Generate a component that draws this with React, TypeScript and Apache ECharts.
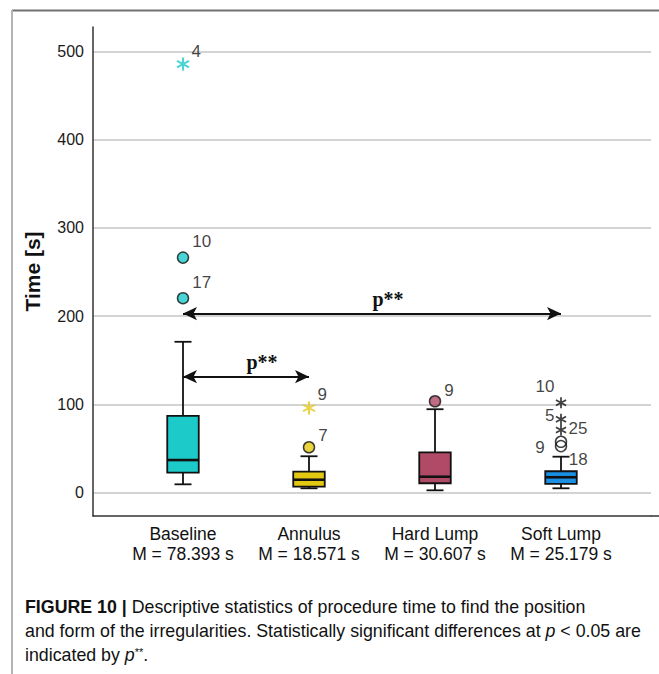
import React, { useEffect, useRef } from 'react';
import * as echarts from 'echarts';

// ---------- data ----------
const categories = ['Baseline', 'Annulus', 'Hard Lump', 'Soft Lump'];
const means = [78.393, 18.571, 30.607, 25.179];
const whiskerLow = [9.5, 5, 2.7, 5];
const q1 = [22.7, 6.8, 10.7, 9.9];
const median = [37, 14.7, 18.1, 17.5];
const q3 = [87, 23.8, 45.8, 24.3];
const whiskerHigh = [171, 41.3, 94.6, 40.8];

const outlierGroup = ['Baseline', 'Baseline', 'Baseline', 'Annulus', 'Annulus', 'Hard Lump', 'Soft Lump', 'Soft Lump', 'Soft Lump', 'Soft Lump', 'Soft Lump'];
const outlierValue = [485.7, 266.4, 220.4, 96, 51.5, 103.6, 102, 83.2, 71.1, 57.7, 52.8];
const outlierCase = ['4', '10', '17', '9', '7', '9', '10', '5', '25', '9', '18'];
const outlierKind = ['extreme', 'outlier', 'outlier', 'extreme', 'outlier', 'outlier', 'extreme', 'extreme', 'extreme', 'outlier', 'outlier'];

const sigFrom = ['Baseline', 'Baseline'];
const sigTo = ['Soft Lump', 'Annulus'];
const sigLevel = [203, 131.5];
const sigText = ['p**', 'p**'];

const yTicks = [0, 100, 200, 300, 400, 500];
const yMin = -26.4;
const yMax = 527.7;

// ---------- styles ----------
const FONT = 'Liberation Sans';
const boxColors = ['#1ccaca', '#e3c812', '#b04a66', '#1b8fe3'];
const INK = '#111111';
const STAR =
  'path://M-0.15 -1L0.15 -1L0.15 1L-0.15 1Z' +
  'M0.791 0.630L-0.941 -0.370L-0.791 -0.630L0.941 0.370Z' +
  'M0.941 -0.370L-0.791 0.630L-0.941 0.370L0.791 -0.630Z';
// [position, distance, dy] for each outlier label
const labelPlacement: [string, number, number][] = [
  ['right', 2, -13], ['right', 3, -16], ['right', 3, -16], ['right', 2, -13], ['right', 3, -12], ['right', 3, -11],
  ['left', 1, -16], ['left', 1, -4], ['right', 2, -1], ['left', 10, 6], ['right', 1.5, 13],
];

function buildOption() {
  const boxData = categories.map((c, i) => [i, whiskerLow[i], q1[i], median[i], q3[i], whiskerHigh[i]]);

  const outlierData = outlierValue.map((v, i) => {
    const g = categories.indexOf(outlierGroup[i]);
    const extreme = outlierKind[i] === 'extreme';
    const hollow = g === 3;
    const [pos, dist, dy] = labelPlacement[i];
    return {
      value: [g, v],
      symbol: extreme ? STAR : 'circle',
      symbolSize: extreme ? (hollow ? 11 : 13) : 11,
      itemStyle: extreme
        ? { color: hollow ? INK : boxColors[g], borderWidth: 0 }
        : { color: hollow ? 'rgba(0,0,0,0)' : boxColors[g], borderColor: INK, borderWidth: 1.5 },
      label: {
        show: true,
        formatter: outlierCase[i],
        position: pos,
        distance: dist,
        offset: [0, dy],
        fontSize: 17,
        color: INK,
        fontFamily: FONT,
      },
    };
  });

  const sigLines = sigFrom.map((f, i) => [
    { coord: [categories.indexOf(f), sigLevel[i]] },
    { coord: [categories.indexOf(sigTo[i]), sigLevel[i]] },
  ]);

  const CF = 17.8;
  const captionRich = {
    b: { fontFamily: FONT, fontSize: CF, fontWeight: 'bold', fill: INK },
    n: { fontFamily: FONT, fontSize: CF, fill: INK },
    i: { fontFamily: FONT, fontSize: CF, fontStyle: 'italic', fill: INK },
    s: { fontFamily: FONT, fontSize: 11, fill: INK, verticalAlign: 'top' },
  };

  return {
    animation: false,
    backgroundColor: '#ffffff',
    textStyle: { fontFamily: FONT },
    grid: [
      { left: 93, right: 8, top: 27, bottom: 158 },
      { left: 120, width: 504, top: 27, bottom: 158 },
    ],
    xAxis: [
      {
        gridIndex: 0,
        type: 'value',
        min: 0,
        max: 1,
        axisLine: { show: true, onZero: false, lineStyle: { color: '#333', width: 1.5 } },
        axisTick: { show: false },
        axisLabel: { show: false },
        splitLine: { show: false },
      },
      {
        gridIndex: 1,
        type: 'category',
        data: categories,
        axisLine: { show: false },
        axisTick: { show: false },
        splitLine: { show: false },
        axisLabel: {
          interval: 0,
          margin: 7.8,
          fontSize: 17.5,
          lineHeight: 20.2,
          color: '#111',
          fontFamily: FONT,
          formatter: (v: string, i: number) => `${v}\nM = ${means[i].toFixed(3)} s`,
        },
      },
    ],
    yAxis: [
      {
        gridIndex: 0,
        type: 'value',
        min: yMin,
        max: yMax,
        name: 'Time [s]',
        nameLocation: 'middle',
        nameGap: 50,
        nameTextStyle: { fontSize: 21, fontWeight: 'bold', color: '#111', fontFamily: FONT },
        axisLine: { show: true, onZero: false, lineStyle: { color: '#333', width: 1.5 } },
        axisTick: { show: false },
        axisLabel: {
          margin: 9,
          fontSize: 16,
          color: '#1a1a1a',
          fontFamily: FONT,
          showMinLabel: false,
          showMaxLabel: false,
          formatter: (v: number) => (yTicks.includes(v) ? String(v) : ''),
        },
        splitLine: {
          show: true,
          showMinLine: false,
          showMaxLine: false,
          lineStyle: { color: '#c4c4c4', width: 1.5 },
        },
      },
      { gridIndex: 1, type: 'value', min: yMin, max: yMax, show: false, splitLine: { show: false } },
    ],
    series: [
      {
        type: 'custom',
        xAxisIndex: 1,
        yAxisIndex: 1,
        data: boxData,
        encode: { x: 0, y: [1, 2, 3, 4, 5] },
        renderItem: (params: any, api: any) => {
          const i = api.value(0);
          const lo = api.coord([i, api.value(1)]);
          const b1 = api.coord([i, api.value(2)]);
          const md = api.coord([i, api.value(3)]);
          const b3 = api.coord([i, api.value(4)]);
          const hi = api.coord([i, api.value(5)]);
          const x = lo[0];
          const hw = 15.75;
          const cw = 8.5;
          const ls = { stroke: INK, lineWidth: 1.8 };
          return {
            type: 'group',
            children: [
              { type: 'line', shape: { x1: x, y1: lo[1], x2: x, y2: b1[1] }, style: ls },
              { type: 'line', shape: { x1: x, y1: b3[1], x2: x, y2: hi[1] }, style: ls },
              { type: 'line', shape: { x1: x - cw, y1: lo[1], x2: x + cw, y2: lo[1] }, style: ls },
              { type: 'line', shape: { x1: x - cw, y1: hi[1], x2: x + cw, y2: hi[1] }, style: ls },
              {
                type: 'rect',
                shape: { x: x - hw, y: b3[1], width: hw * 2, height: b1[1] - b3[1] },
                style: { fill: boxColors[i], stroke: INK, lineWidth: 1.8 },
              },
              { type: 'line', shape: { x1: x - hw, y1: md[1], x2: x + hw, y2: md[1] }, style: { stroke: INK, lineWidth: 2.6 } },
            ],
          };
        },
      },
      {
        type: 'scatter',
        xAxisIndex: 1,
        yAxisIndex: 1,
        data: outlierData,
        markLine: {
          silent: true,
          animation: false,
          symbol: ['arrow', 'arrow'],
          symbolSize: [10, 14],
          lineStyle: { color: '#111', width: 2, type: 'solid' },
          label: {
            show: true,
            position: 'middle',
            formatter: (p: any) => sigText[p.dataIndex],
            fontFamily: 'Liberation Serif',
            fontWeight: 'bold',
            fontSize: 20,
            color: '#111',
            padding: [0, 0, 0, 32],
          },
          data: sigLines,
        },
      },
    ],
    graphic: [
      { type: 'line', silent: true, shape: { x1: 12, y1: 10.5, x2: 659, y2: 10.5 }, style: { stroke: '#707070', lineWidth: 2 } },
      { type: 'line', silent: true, shape: { x1: 12, y1: 10, x2: 12, y2: 674 }, style: { stroke: '#b4b4b4', lineWidth: 2 } },
      { type: 'line', silent: true, shape: { x1: 651, y1: 516, x2: 659, y2: 516 }, style: { stroke: '#333', lineWidth: 1.5 } },
      {
        type: 'text',
        x: 25,
        y: 607,
        style: {
          text: '{b|FIGURE 10 |}{n| Descriptive statistics of procedure time to find the position}',
          rich: captionRich,
          verticalAlign: 'middle',
        },
      },
      {
        type: 'text',
        x: 25,
        y: 631,
        style: {
          text: '{n|and form of the irregularities. Statistically significant differences at }{i|p}{n| < 0.05 are}',
          rich: captionRich,
          verticalAlign: 'middle',
        },
      },
      {
        type: 'text',
        x: 25,
        y: 655,
        style: {
          text: '{n|indicated by }{i|p}{s|**}{n|.}',
          rich: captionRich,
          verticalAlign: 'middle',
        },
      },
    ],
  };
}

export default function App() {
  const ref = useRef<HTMLDivElement>(null);
  useEffect(() => {
    if (!ref.current) return;
    const chart = echarts.init(ref.current, null, { renderer: 'svg' });
    chart.setOption(buildOption() as any);
    return () => chart.dispose();
  }, []);
  return (
    <div
      ref={ref}
      style={{ position: 'fixed', left: 0, top: 0, width: 659, height: 674, background: '#fff' }}
    />
  );
}
